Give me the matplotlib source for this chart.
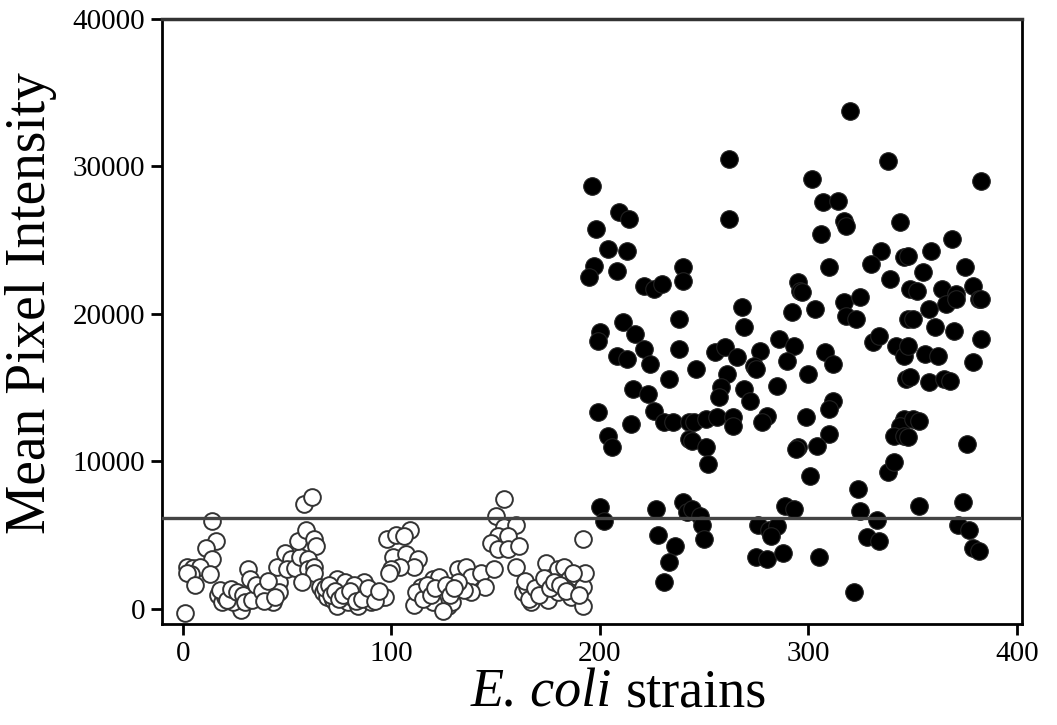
import numpy as np
import matplotlib
matplotlib.use('Agg')
import matplotlib.pyplot as plt

plt.rcParams['font.family'] = ['Liberation Serif', 'DejaVu Serif']

# negative strains (open circles): (strain index, mean pixel intensity)
neg_x = [1, 14, 16, 11, 14, 2, 5, 8, 4, 2, 13, 6,
         17, 19, 22, 24, 28, 27, 31, 32, 34, 31, 37, 36, 24, 20,
         40, 43, 42, 46, 46,
         45, 49, 52, 50, 54, 56, 55, 59, 63, 64, 60, 60, 63, 63, 57,
         58, 62,
         66, 67, 69, 72, 74, 76, 79, 81, 84, 85, 87, 88, 90, 91, 93, 74, 78, 82,
         90, 95, 97,
         98, 102, 109, 106,
         101, 107, 113, 111, 104, 100, 99,
         111, 114, 118, 120, 123, 124, 127, 129, 122, 116, 120, 125,
         132, 136, 138, 143, 145, 149, 138, 135, 132,
         154, 150,
         154, 160, 151, 156, 148, 151, 156, 161,
         160,
         163, 165, 168, 172, 174, 177, 180, 183, 185, 188, 189, 192, 193,
         167, 175, 180, 186, 192,
         192,
         18, 21, 23, 26, 29, 30, 33, 35, 38, 39, 41, 44,
         68, 70, 71, 73, 75, 77, 80, 83, 86, 89, 92, 94,
         112, 115, 117, 119, 121, 126, 128, 130,
         164, 166, 169, 171, 173, 176, 178, 181, 184, 187, 190]
neg_y = [-270, 5910, 4550, 4140, 3330, 2850, 2780, 2850, 2310, 2440, 2310, 1630,
         950, 475, 1090, 750, -70, 610, 2650, 1970, 1290, 815, 1490, 815, 410, 815,
         950, 410, 1490, 1770, 1090,
         2850, 3800, 3330, 2650, 2780, 3530, 4550, 5360, 4690, 4210, 3330, 2650, 2850, 2440, 1830,
         7060, 7540,
         1490, 1090, 815, 610, 140, 1290, 410, 815, 140, 1490, 1770, 1090, 410, 815, 1090, 1970, 1770, 1630,
         815, 815, 750,
         4690, 5020, 5360, 4890,
         3530, 3670, 3330, 2850, 2850, 2650, 2440,
         270, 1490, 1090, 1970, 2170, 1290, 140, 410, 610, 815, 410, -200,
         2650, 2850, 2170, 2440, 1490, 2650, 1090, 1290, 1770,
         7400, 6250,
         5500, 5700, 4890, 4890, 4480, 4010, 4010, 4210,
         2850,
         1090, 1490, 815, 1490, 3120, 2170, 2650, 2850, 1970, 1490, 2170, 1490, 2440,
         410, 610, 1090, 815, 140,
         4690,
         1290, 610, 1350, 1090, 950, 410, 610, 1630, 1220, 540, 1900, 750,
         1360, 1630, 950, 1220, 680, 950, 1220, 540, 680, 1360, 540, 1220,
         1090, 680, 1630, 950, 1360, 1630, 950, 1360,
         1900, 680, 1360, 950, 2040, 1360, 1770, 1630, 1220, 2440, 950]

# positive strains (filled circles)
pos_x = [196, 198, 204, 213, 209, 214, 197, 195, 208, 221, 226, 230, 240, 240,
         211, 200, 199, 217, 221, 208, 213, 224, 238, 238, 233, 216, 223, 226,
         231, 235, 199, 215, 204, 206, 243, 243, 200, 202, 227, 240, 242, 228,
         236, 233, 231,
         262, 262, 295, 296, 268, 292, 269, 286, 293, 255, 260, 266, 277, 274,
         275, 290, 246, 261, 285, 258, 257, 269, 272, 245, 251, 256, 264, 264,
         280, 278, 244, 251, 252, 295, 244, 248, 249, 250, 289, 293, 276, 281,
         285, 282, 275, 280, 288,
         320, 338, 302, 307, 314, 317, 318, 306, 344, 335, 330, 346, 310, 339,
         297, 349, 317, 325, 318, 323, 303, 348, 331, 334, 342, 346, 308, 312,
         300, 347, 312, 310, 299, 346, 344, 341, 346, 310, 304, 294, 338, 341,
         301, 324, 325, 333, 328, 334, 305, 322,
         383, 369, 359, 348, 355, 375, 352, 364, 371, 366, 371, 379, 382, 383,
         358, 350, 361, 370, 383, 348, 356, 362, 379, 349, 358, 365, 368, 350,
         353, 348, 376, 353, 374, 372, 377, 379, 382]
pos_y = [28650, 25730, 24380, 24240, 26890, 26410, 23220, 22480, 22880, 21860, 21660, 22000, 23150, 22200,
         19420, 18740, 18130, 18600, 17590, 17110, 16910, 16570, 19620, 17590, 15550, 14870, 14530, 13380,
         12630, 12630, 13310, 12490, 11680, 10930, 12630, 11480, 6860, 5910, 6720, 7200, 6520, 5020,
         4210, 3190, 1830,
         30490, 26410, 22140, 21520, 20440, 20100, 19080, 18270, 17790, 17380, 17720, 17040, 17450, 16430,
         16230, 16770, 16230, 15890, 15070, 15010, 14330, 14870, 14060, 12630, 12830, 12970, 12970, 12360,
         13040, 12630, 11340, 10930, 9780, 10930, 6720, 6250, 5700, 4690, 6930, 6720, 5700, 5360,
         5570, 4890, 3530, 3330, 3800,
         33750, 30350, 29130, 27570, 27640, 26280, 25940, 25400, 26210, 24240, 23360, 23830, 23150, 22340,
         21460, 21660, 20780, 21120, 19830, 19620, 20300, 19620, 18060, 18470, 17790, 17110, 17380, 16570,
         15890, 15550, 14060, 13510, 12970, 12830, 12360, 11680, 11680, 11820, 11000, 10800, 9230, 9910,
         8960, 8080, 6590, 6040, 4820, 4550, 3530, 1150,
         28990, 25060, 24240, 23900, 22810, 23150, 21520, 21660, 21320, 20640, 20980, 21860, 20980, 20980,
         20300, 19620, 19080, 18810, 18270, 17790, 17250, 17110, 16700, 15680, 15350, 15550, 15410, 12830,
         12700, 11610, 11140, 6930, 7200, 5700, 5360, 4140, 3870]

cutoff = 6150
x_ticks = [0, 100, 200, 300, 400]
y_ticks = [0, 10000, 20000, 30000, 40000]

fig = plt.figure(figsize=(10.57, 7.25), dpi=100)
ax = fig.add_axes([0.1533, 0.1393, 0.8136, 0.8345])

ax.scatter(neg_x, neg_y, s=145, facecolors='white', edgecolors='#333333',
           linewidths=1.4, zorder=3)
ax.scatter(pos_x, pos_y, s=160, c='black', edgecolors='#222222',
           linewidths=0.8, zorder=3)
ax.axhline(cutoff, color='#444444', lw=2.4, zorder=4)

ax.set_xlim(-10, 402.5)
ax.set_ylim(-1050, 40000)
ax.set_xticks(x_ticks)
ax.set_yticks(y_ticks)
ax.tick_params(direction='out', length=8, width=2, labelsize=21, pad=4)

for side in ['left', 'bottom', 'right']:
    ax.spines[side].set_linewidth(2)
ax.spines['top'].set_linewidth(2.5)
ax.spines['top'].set_color('#333333')

ax.set_ylabel('Mean Pixel Intensity', fontsize=40)
ax.yaxis.set_label_coords(-0.122, 0.53)

# x label: italic species name followed by upright "strains"
fig.text(0.592, 0.026, 'strains', fontsize=39, ha='left', va='baseline')
fig.text(0.592, 0.026, 'E. coli ', fontsize=39, ha='right', va='baseline',
         style='italic')

fig.savefig('out.png', dpi=100)
